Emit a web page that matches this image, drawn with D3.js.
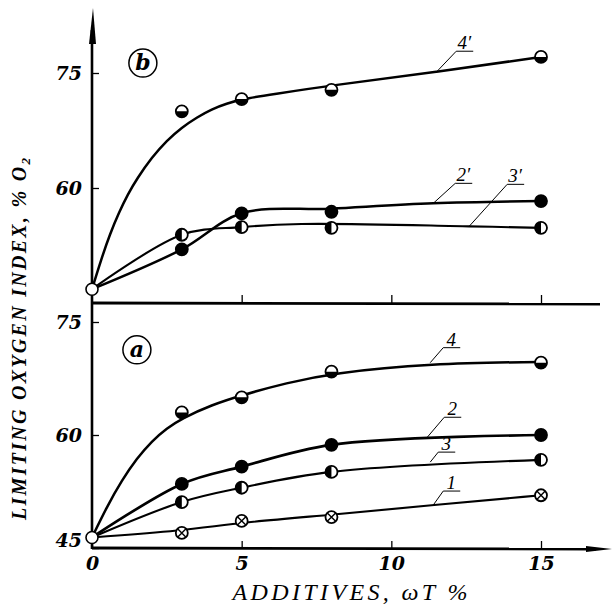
<!DOCTYPE html>
<html>
<head>
<meta charset="utf-8">
<script src="https://cdn.jsdelivr.net/npm/d3@7"></script>
<style>
  body { margin: 0; background: #fff; }
  text { font-family: "DejaVu Serif", "Liberation Serif", serif; font-style: italic; fill: #000; }
</style>
</head>
<body>
<div id="chart"></div>
<script>
// additive contents (wt %) where points were measured
var additives = [0, 3, 5, 8, 15];

// panel (a): measured LOI values
var a1 = [46.4, 47.0, 48.6, 49.1, 52.0];
var a2 = [46.4, 53.5, 55.8, 58.7, 60.0];
var a3 = [46.4, 51.1, 53.0, 55.1, 56.7];
var a4 = [46.4, 63.0, 65.0, 68.4, 69.6];

// panel (b): measured LOI values
var b2 = [46.8, 52.0, 56.7, 56.9, 58.3];
var b3 = [46.8, 53.9, 54.9, 54.8, 54.8];
var b4 = [46.8, 70.0, 71.6, 72.8, 77.1];

// hand drawn fit curves (x, LOI)
var fitA1 = [[0, 46.4], [3, 47.3], [5, 48.4], [8, 49.4], [11.4, 50.7], [15, 52.0]];
var fitA4 = [[0, 46.4], [0.5, 50.5], [1, 54.0], [1.5, 56.9], [2, 59.2], [2.5, 60.9], [3, 62.2], [4, 64.0], [5, 65.3], [6.5, 66.9], [8, 68.2], [11.3, 69.5], [15, 69.7]];
var fitB4 = [[0, 46.8], [0.3, 50.6], [0.6, 54.0], [0.9, 56.8], [1.2, 59.2], [1.5, 61.2], [2, 64.0], [2.5, 66.2], [3, 67.9], [3.5, 69.2], [4, 70.3], [4.5, 71.0], [5, 71.6], [6, 72.2], [8, 73.4], [11.5, 75.1], [15, 77.1]];
var fitB2 = [[0, 46.8], [3, 52.0], [5, 56.7], [8, 57.3], [11.4, 58.0], [15, 58.3]];
var fitB3 = [[0, 46.8], [3, 53.9], [5, 54.9], [7, 55.3], [12.6, 55.0], [15, 54.8]];

// curve labels: name, x where the leader meets the curve, LOI there
var labelNamesA = ["4", "2", "3", "1"];
var labelXA = [11.3, 11.2, 11.3, 11.4];
var labelValA = [69.6, 59.7, 56.4, 50.7];
var labelNamesB = ["4\u2032", "2\u2032", "3\u2032"];
var labelXB = [11.5, 11.4, 12.6];
var labelValB = [75.1, 58.0, 55.0];

var xTicks = [0, 5, 10, 15];
var yTicks = [45, 60, 75];

//leader offsets in px (dx, dy) per label
var leaderA = [[13, -15], [17, -20], [8, -10], [10, -14]];
var leaderB = [[20, -21], [22, -20], [38, -42]];

var width = 613, height = 608;

var svg = d3.select("#chart")
  .append("svg")
  .attr("width", width)
  .attr("height", height);

//scales
var xScale = d3.scaleLinear().domain([0, 15]).range([92, 541]);
var yB = d3.scaleLinear().domain([45, 75]).range([303, 73]);
var yA = d3.scaleLinear().domain([45, 75]).range([548, 322]);

//build series tables
var panelA = [
  { vals: a4, fit: fitA4, curve: d3.curveBasis, type: "bottom", w: 2.5 },
  { vals: a2, fit: null, curve: d3.curveCatmullRom, type: "full", w: 2.7 },
  { vals: a3, fit: null, curve: d3.curveCatmullRom, type: "left", w: 2.1 },
  { vals: a1, fit: fitA1, curve: d3.curveBasis, type: "cross", w: 2.1 }
];
var panelB = [
  { vals: b4, fit: fitB4, curve: d3.curveBasis, type: "bottom", w: 2.5 },
  { vals: b2, fit: fitB2, curve: d3.curveCatmullRom, type: "full", w: 2.5 },
  { vals: b3, fit: fitB3, curve: d3.curveCatmullRom, type: "left", w: 2.1 }
];

var r = 6;

var drawPanel = function(series, yScale, names, lx, lv, leaders) {
  var g = svg.append("g");

  series.forEach(function(s) {
    var line = d3.line()
      .x(function(d) { return xScale(d[0]); })
      .y(function(d) { return yScale(d[1]); })
      .curve(s.curve);
    var pts = s.fit ? s.fit : additives.map(function(a, i) { return [a, s.vals[i]]; });
    g.append("path")
      .attr("d", line(pts))
      .attr("fill", "none")
      .attr("stroke", "#000")
      .attr("stroke-width", s.w);
  });

  //leader lines and labels
  names.forEach(function(n, i) {
    var x0 = xScale(lx[i]), y0 = yScale(lv[i]);
    var x1 = x0 + leaders[i][0], y1 = y0 + leaders[i][1];
    g.append("path")
      .attr("d", "M" + x0 + "," + y0 + "L" + x1 + "," + y1 + "L" + (x1 + 17) + "," + y1)
      .attr("fill", "none")
      .attr("stroke", "#000")
      .attr("stroke-width", 1);
    g.append("text")
      .attr("x", x1 + 8)
      .attr("y", y1 - 2)
      .attr("text-anchor", "middle")
      .style("font-family", "'Liberation Serif', serif")
      .style("font-size", "19px")
      .text(n);
  });

  //markers (point at 0 is open for every series)
  series.forEach(function(s) {
    s.vals.forEach(function(v, i) {
      if (i === 0) return;
      var m = g.append("g")
        .attr("transform", "translate(" + xScale(additives[i]) + "," + yScale(v) + ")");
      m.append("circle")
        .attr("r", r)
        .attr("fill", s.type === "full" ? "#000" : "#fff")
        .attr("stroke", "#000")
        .attr("stroke-width", 1.8);
      if (s.type === "bottom") {
        m.append("path").attr("d", "M" + -r + ",0A" + r + "," + r + " 0 0 0 " + r + ",0Z").attr("fill", "#000");
      } else if (s.type === "left") {
        m.append("path").attr("d", "M0," + -r + "A" + r + "," + r + " 0 0 0 0," + r + "Z").attr("fill", "#000");
      } else if (s.type === "cross") {
        var k = r * 0.7;
        m.append("path")
          .attr("d", "M" + -k + "," + -k + "L" + k + "," + k + "M" + k + "," + -k + "L" + -k + "," + k)
          .attr("stroke", "#000")
          .attr("stroke-width", 1.4);
      }
    });
  });

  //common starting point
  g.append("circle")
    .attr("cx", xScale(additives[0]))
    .attr("cy", yScale(series[0].vals[0]))
    .attr("r", r)
    .attr("fill", "#fff")
    .attr("stroke", "#000")
    .attr("stroke-width", 1.6);

  return g;
};

//y axes (ticks pointing inside)
var yAxisB = d3.axisLeft(yB).tickValues([60, 75]).tickSize(-7).tickPadding(10).tickFormat(d3.format("d"));
var yAxisA = d3.axisLeft(yA).tickValues(yTicks).tickSize(-7).tickPadding(10).tickFormat(d3.format("d"));

var gyB = svg.append("g").attr("transform", "translate(" + xScale(0) + ",0)").call(yAxisB);
var gyA = svg.append("g").attr("transform", "translate(" + xScale(0) + ",0)").call(yAxisA);

//x axes (ticks pointing up)
var xAxisA = d3.axisBottom(xScale).tickValues(xTicks).tickSize(-7).tickPadding(9).tickFormat(d3.format("d"));
var xAxisB = d3.axisBottom(xScale).tickValues(xTicks.slice(1)).tickSize(-8).tickFormat("");

var gxA = svg.append("g").attr("transform", "translate(0," + yA(45) + ")").call(xAxisA);
var gxB = svg.append("g").attr("transform", "translate(0," + yB(45) + ")").call(xAxisB);

[gyA, gyB, gxA, gxB].forEach(function(g) {
  g.selectAll(".domain").remove();
  g.selectAll(".tick line").attr("stroke", "#000").attr("stroke-width", 1.3);
  g.selectAll(".tick text")
    .attr("fill", "#000")
    .style("font-family", "'DejaVu Serif', serif")
    .style("font-style", "italic")
    .style("font-weight", "bold")
    .style("font-size", "19px");
});

//lower 45 sits a bit above the corner
gyA.selectAll(".tick text").filter(function(d) { return d === 45; }).attr("dy", "-0.1em");

//axis lines
svg.append("line")
  .attr("x1", xScale(0)).attr("y1", yA(45) + 1)
  .attr("x2", xScale(0)).attr("y2", 30)
  .attr("stroke", "#000").attr("stroke-width", 2.6);
svg.append("path")
  .attr("d", "M" + (xScale(0) + 1) + ",8L" + (xScale(0) - 3) + ",44L" + (xScale(0) + 4) + ",44Z")
  .attr("fill", "#000");

svg.append("line")
  .attr("x1", xScale(0)).attr("y1", yA(45))
  .attr("x2", 596).attr("y2", yA(45) + 1)
  .attr("stroke", "#000").attr("stroke-width", 2.8);
svg.append("path")
  .attr("d", "M612," + (yA(45) + 1) + "L586," + (yA(45) - 2) + "L586," + (yA(45) + 4) + "Z")
  .attr("fill", "#000");

svg.append("line")
  .attr("x1", xScale(0)).attr("y1", yB(45))
  .attr("x2", 600).attr("y2", yB(45) + 1)
  .attr("stroke", "#000").attr("stroke-width", 2.8);

//curves
drawPanel(panelB, yB, labelNamesB, labelXB, labelValB, leaderB);
drawPanel(panelA, yA, labelNamesA, labelXA, labelValA, leaderA);

//circled panel letters
var panelTags = [
  { t: "b", x: 1.7, v: 76.3, y: yB },
  { t: "a", x: 1.5, v: 71.3, y: yA }
];
panelTags.forEach(function(p) {
  svg.append("circle")
    .attr("cx", xScale(p.x)).attr("cy", p.y(p.v))
    .attr("r", 14)
    .attr("fill", "none").attr("stroke", "#000").attr("stroke-width", 1.5);
  svg.append("text")
    .attr("x", xScale(p.x)).attr("y", p.y(p.v) + 7)
    .attr("text-anchor", "middle")
    .style("font-size", "22px")
    .style("font-weight", "bold")
    .text(p.t);
});

//axis titles
svg.append("text")
  .attr("transform", "translate(26,339) rotate(-90)")
  .attr("text-anchor", "middle")
  .attr("textLength", 362)
  .attr("lengthAdjust", "spacing")
  .style("font-family", "'Liberation Serif', serif")
  .style("font-size", "20px")
  .style("font-weight", "bold")
  .text("LIMITING  OXYGEN INDEX, % O")
  .append("tspan")
  .attr("dy", "0.3em")
  .style("font-size", "13px")
  .text("2");

svg.append("text")
  .attr("x", 350)
  .attr("y", 600)
  .attr("text-anchor", "middle")
  .attr("textLength", 235)
  .attr("lengthAdjust", "spacing")
  .style("font-family", "'Liberation Serif', serif")
  .style("font-size", "24px")
  .text("ADDITIVES, \u03c9T %");
</script>
</body>
</html>
